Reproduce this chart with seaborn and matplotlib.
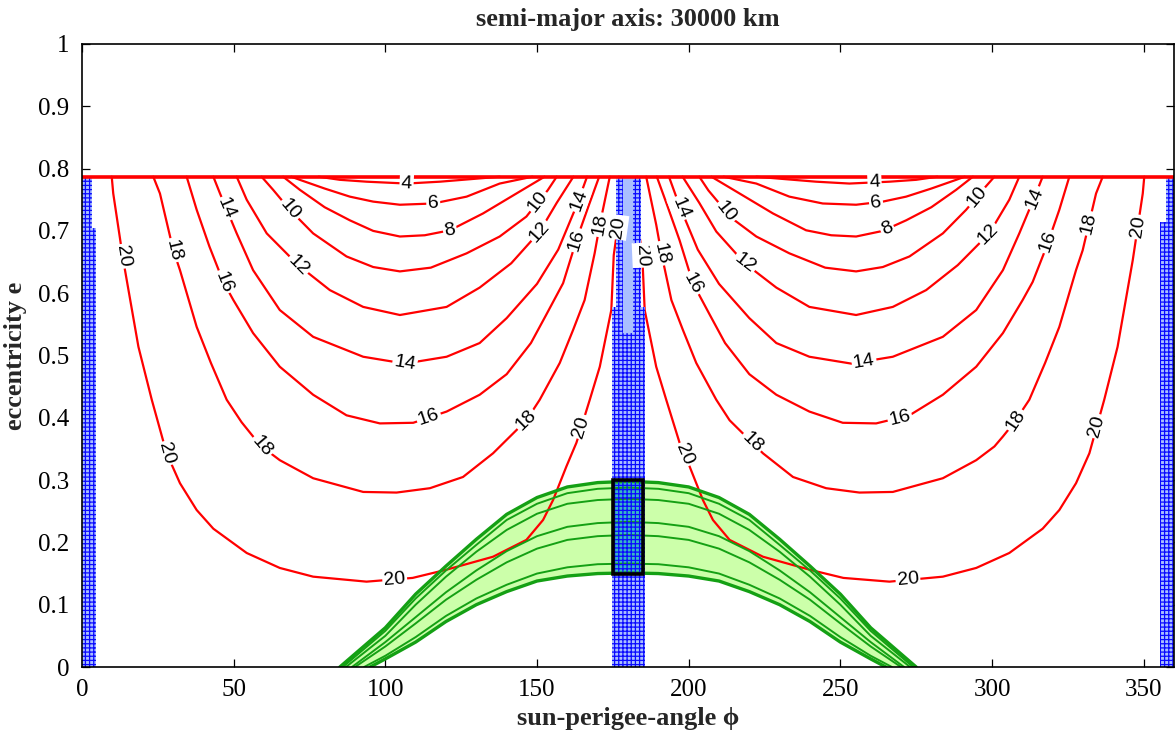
import numpy as np
import matplotlib
matplotlib.use("Agg")
import matplotlib.pyplot as plt
from matplotlib.patches import Polygon, Rectangle
import seaborn as sns

# ---------------------------------------------------------------------------
# Contour lines of the left half (0..180 deg); the right half is the mirror
# image phi -> 360 - phi.
# ---------------------------------------------------------------------------
levels = [4, 6, 8, 10, 12, 14, 16, 18, 20]

phi_04 = [78, 85, 93.8, 107, 118, 128, 137.7]
e_04 = [0.787, 0.782, 0.779, 0.776, 0.779, 0.783, 0.787]

phi_06 = [69, 71.8, 80, 88.3, 96, 104.8, 115.8, 126.8, 137.7, 148.5]
e_06 = [0.787, 0.782, 0.768, 0.755, 0.747, 0.742, 0.744, 0.755, 0.776, 0.787]

phi_08 = [66.3, 71.8, 80, 88.3, 96, 104.8, 113, 121.3, 132.2, 143.2, 152.5]
e_08 = [0.787, 0.766, 0.738, 0.717, 0.700, 0.691, 0.693, 0.701, 0.728, 0.760, 0.787]

phi_10 = [59.2, 63.0, 68.5, 76.2, 87.2, 96, 104.8, 115, 126.8, 137.7, 146.5, 150.4, 153.5, 156.5]
e_10 = [0.787, 0.766, 0.734, 0.696, 0.659, 0.642, 0.635, 0.641, 0.664, 0.691, 0.723, 0.747, 0.765, 0.787]

phi_12 = [51.0, 54.3, 60.9, 71.3, 81.7, 92.7, 104.8, 120.2, 131.1, 141.5, 150.9, 156.5, 162]
e_12 = [0.787, 0.750, 0.696, 0.645, 0.605, 0.578, 0.565, 0.578, 0.609, 0.648, 0.699, 0.745, 0.787]

phi_14 = [43.3, 45.5, 51.0, 56.4, 65.2, 76.2, 92.7, 106.4, 120.2, 131.1, 140, 150, 157, 163, 166.5]
e_14 = [0.787, 0.760, 0.696, 0.637, 0.573, 0.530, 0.498, 0.487, 0.498, 0.520, 0.560, 0.615, 0.670, 0.740, 0.787]

phi_16 = [34.5, 37.8, 42, 46.6, 49.9, 56.4, 65.2, 76.2, 87.2, 98.2, 109.2, 120.2, 131.1,
          140, 148, 153, 158.6, 163, 167, 170.5]
e_16 = [0.787, 0.734, 0.675, 0.618, 0.589, 0.536, 0.482, 0.437, 0.404, 0.391, 0.392, 0.410, 0.437,
        0.470, 0.520, 0.565, 0.616, 0.685, 0.740, 0.787]

phi_18 = [23.5, 25.7, 30.1, 32.3, 37.8, 42.5, 47.7, 52.6, 56.4, 59.2, 65.2, 76.2, 92.7, 103.7,
          114.7, 125.6, 135.5, 146.5, 150.9, 157.5, 161.9, 165.7, 169, 170.7, 174]
e_18 = [0.787, 0.760, 0.669, 0.637, 0.546, 0.488, 0.429, 0.393, 0.370, 0.354, 0.332, 0.303, 0.281, 0.280,
        0.287, 0.305, 0.343, 0.396, 0.429, 0.488, 0.541, 0.589, 0.664, 0.710, 0.787]

phi_20 = [9.8, 10.3, 13.6, 18.6, 23.0, 27.9, 32.3, 37.8, 43.3, 54.3, 65.2, 76.2, 93.8, 109, 120,
          135.5, 146.5, 152, 155.3, 159.7, 163, 167.4, 170.7, 174.5, 175.3, 176.6, 177]
e_20 = [0.787, 0.760, 0.653, 0.514, 0.429, 0.343, 0.295, 0.252, 0.222, 0.183, 0.159, 0.145, 0.137, 0.143, 0.156,
        0.177, 0.204, 0.236, 0.268, 0.322, 0.360, 0.429, 0.482, 0.573, 0.661, 0.706, 0.787]

contour_phi = [phi_04, phi_06, phi_08, phi_10, phi_12, phi_14, phi_16, phi_18, phi_20]
contour_e = [e_04, e_06, e_08, e_10, e_12, e_14, e_16, e_18, e_20]

# perigee altitude limit: e = 1 - R_earth / a
e_max = 0.787

# label anchors (level, phi, e)
label_level = [4, 6, 8, 10, 12, 14, 16, 18, 20, 14, 16, 18, 20, 20, 10, 12, 14, 16, 18, 20, 18, 20,
               4, 6, 8, 10, 12, 14, 16, 18, 20, 14, 16, 18, 20, 20, 20, 18, 14, 16, 10, 12, 20, 18]
label_phi = [107, 115.8, 121.3, 68.5, 71.3, 46.6, 46.6, 30.1, 13.1, 106.4, 114.1, 59.2, 27.9, 103.1,
             150.4, 150.9, 163.5, 163, 170.7, 176.6, 146.5, 165,
             261.3, 261.8, 265.7, 294.2, 297.5, 312.9, 317.3, 331.9, 347, 258, 269.5, 306.9, 334.9, 272.3,
             185, 191, 197, 201.4, 212.4, 218.5, 197, 220]
label_e = [0.776, 0.744, 0.701, 0.734, 0.645, 0.734, 0.618, 0.669, 0.659, 0.487, 0.404, 0.354, 0.343, 0.140,
           0.747, 0.699, 0.750, 0.685, 0.710, 0.706, 0.396, 0.385,
           0.776, 0.744, 0.701, 0.758, 0.701, 0.755, 0.685, 0.712, 0.707, 0.485, 0.402, 0.399, 0.386, 0.140,
           0.661, 0.664, 0.736, 0.616, 0.731, 0.648, 0.338, 0.356]

# ---------------------------------------------------------------------------
# Feasible region (green): left half, mirrored about 180 deg
# ---------------------------------------------------------------------------
g_phi = [100, 110, 120, 130, 140, 150, 160, 170, 180]
g_top_foot = 85
g_top = [0.063, 0.117, 0.162, 0.205, 0.245, 0.272, 0.289, 0.296, 0.298]
g_bot_foot = 95
g_bot = [0.013, 0.040, 0.073, 0.100, 0.121, 0.138, 0.146, 0.150, 0.151]

g_inner_feet = [86, 87, 89, 90, 93]
g_inner_1 = [0.058, 0.110, 0.155, 0.196, 0.236, 0.262, 0.279, 0.286, 0.288]
g_inner_2 = [0.050, 0.100, 0.145, 0.185, 0.220, 0.246, 0.262, 0.268, 0.270]
g_inner_3 = [0.040, 0.080, 0.120, 0.155, 0.186, 0.210, 0.225, 0.231, 0.233]
g_inner_4 = [0.033, 0.070, 0.108, 0.140, 0.168, 0.190, 0.204, 0.210, 0.212]
g_inner_5 = [0.018, 0.048, 0.082, 0.110, 0.132, 0.150, 0.160, 0.165, 0.166]
g_inner = [g_inner_1, g_inner_2, g_inner_3, g_inner_4, g_inner_5]

# ---------------------------------------------------------------------------
# Excluded sun-perigee bands (blue) and the selected design box
# ---------------------------------------------------------------------------
band_left_phi = [0, 4.7, 4.7, 3.2, 3.2, 0]
band_left_e = [0, 0, 0.705, 0.705, 0.787, 0.787]
band_mid_phi = [174.8, 185.5, 185.5, 184.3, 184.3, 176.2, 176.2, 174.8]
band_mid_e = [0, 0, 0.578, 0.578, 0.787, 0.787, 0.578, 0.578]
band_mid_core_phi = [178.4, 181.6, 181.6, 178.4]
band_mid_core_e = [0.536, 0.536, 0.787, 0.787]
band_right_phi = [355.4, 360, 360, 357.2, 357.2, 355.4]
band_right_e = [0, 0, 0.787, 0.787, 0.715, 0.715]

box_phi = [175, 185]
box_e = [0.15, 0.30]

# ---------------------------------------------------------------------------
sns.set_theme(style="ticks")
plt.rcParams["font.family"] = ["Liberation Serif", "DejaVu Serif"]
plt.rcParams["hatch.linewidth"] = 0.9

W, H = 1176, 736
fig = plt.figure(figsize=(W / 100, H / 100), dpi=100)
ax = fig.add_axes([82 / W, 1 - 667 / H, (1174 - 82) / W, (667 - 44) / H])
ax.set_xlim(0, 360)
ax.set_ylim(0, 1)

RED = "#ff0000"
GREEN_LINE = "#14a014"
GREEN_FILL = "#ccffaa"
BLUE_FILL = "#aabfff"
BLUE = "#0a0aff"


def mirror(xs):
    return [360 - x for x in xs]


# contour lines
for xs, ys in zip(contour_phi, contour_e):
    for xx in (xs, mirror(xs)):
        sns.lineplot(x=xx, y=ys, sort=False, estimator=None, color=RED,
                     linewidth=1.6, ax=ax, zorder=1.6)

# perigee limit line
sns.lineplot(x=[0, 360], y=[e_max, e_max], sort=False, estimator=None,
             color=RED, linewidth=2.6, ax=ax, zorder=2.4)


# green region
def full_arc(foot, vals):
    xs = [foot] + list(g_phi) + mirror(g_phi[:-1])[::-1] + [360 - foot]
    ys = [0.0] + list(vals) + list(vals[:-1])[::-1] + [0.0]
    return xs, ys


top_x, top_y = full_arc(g_top_foot, g_top)
bot_x, bot_y = full_arc(g_bot_foot, g_bot)
ax.fill(top_x + bot_x[::-1], top_y + bot_y[::-1], color=GREEN_FILL, lw=0, zorder=1.2)

green_curves = [(top_x, top_y, 2.4), (bot_x, bot_y, 2.4)]
for foot, vals in zip(g_inner_feet, g_inner):
    gx, gy = full_arc(foot, vals)
    green_curves.append((gx, gy, 1.4))
for gx, gy, lw in green_curves:
    sns.lineplot(x=gx, y=gy, sort=False, estimator=None, color=GREEN_LINE,
                 linewidth=lw, ax=ax, zorder=1.8)

# blue bands
for bx, by in ((band_left_phi, band_left_e), (band_mid_phi, band_mid_e),
               (band_right_phi, band_right_e)):
    ax.add_patch(Polygon(np.column_stack([bx, by]), closed=True,
                         facecolor=BLUE_FILL, edgecolor="none", lw=0, zorder=2.0))

# overlap of band and feasible region inside the box
ax.add_patch(Rectangle((box_phi[0], box_e[0]), box_phi[1] - box_phi[0], box_e[1] - box_e[0],
                       facecolor="#38b8c4", edgecolor="none", zorder=2.05))
clip_rect = Rectangle((box_phi[0], box_e[0]), box_phi[1] - box_phi[0], box_e[1] - box_e[0],
                      transform=ax.transData)
for gx, gy, lw in green_curves:
    ln, = ax.plot(gx, gy, color=GREEN_LINE, lw=lw, zorder=2.1)
    ln.set_clip_path(clip_rect)

for bx, by in ((band_left_phi, band_left_e), (band_mid_phi, band_mid_e),
               (band_right_phi, band_right_e)):
    ax.add_patch(Polygon(np.column_stack([bx, by]), closed=True,
                         facecolor="none", edgecolor=BLUE, lw=0, hatch="++++", zorder=2.15))
ax.add_patch(Polygon(np.column_stack([band_mid_core_phi, band_mid_core_e]), closed=True,
                     facecolor=BLUE_FILL, edgecolor="none", lw=0, zorder=2.18))

# design box
ax.add_patch(Rectangle((box_phi[0], box_e[0]), box_phi[1] - box_phi[0], box_e[1] - box_e[0],
                       facecolor="none", edgecolor="black", lw=2.6, zorder=2.3))


# contour labels placed on their curves, aligned with the local direction
def place_on_curve(level, px, py):
    k = levels.index(level)
    best = None
    for xs in (contour_phi[k], mirror(contour_phi[k])):
        P = ax.transData.transform(np.column_stack([xs, contour_e[k]]))
        q = ax.transData.transform((px, py))
        for i in range(len(P) - 1):
            a, b = P[i], P[i + 1]
            d = b - a
            t = np.clip(np.dot(q - a, d) / np.dot(d, d), 0, 1)
            proj = a + t * d
            dist = np.hypot(*(q - proj))
            if best is None or dist < best[0]:
                best = (dist, proj, d)
    _, proj, d = best
    ang = np.degrees(np.arctan2(d[1], d[0]))
    if ang > 90:
        ang -= 180
    if ang < -90:
        ang += 180
    x, y = ax.transData.inverted().transform(proj)
    return x, y, ang


for lev, px, py in zip(label_level, label_phi, label_e):
    x, y, ang = place_on_curve(lev, px, py)
    ax.text(x, y, str(lev), rotation=ang, rotation_mode="anchor", ha="center", va="center",
            fontsize=14, family=["Liberation Sans", "DejaVu Sans"], color="black", zorder=3,
            bbox=dict(boxstyle="square,pad=0.08", fc="white", ec="none"))

# axes cosmetics
xt = [0, 50, 100, 150, 200, 250, 300, 350]
yt = [0, 0.1, 0.2, 0.3, 0.4, 0.5, 0.6, 0.7, 0.8, 0.9, 1.0]
ax.set_xticks(xt)
ax.set_xticklabels([str(v) for v in xt])
ax.set_yticks(yt)
ax.set_yticklabels(["0", "0.1", "0.2", "0.3", "0.4", "0.5", "0.6", "0.7", "0.8", "0.9", "1"])
ax.tick_params(direction="in", top=True, right=True, length=6, width=0.9,
               labelsize=18, colors="black", pad=9)
for s in ax.spines.values():
    s.set_visible(True)
    s.set_color("black")
    s.set_linewidth(1.2)
    s.set_zorder(2.5)

ax.set_title("semi-major axis: 30000 km", fontsize=19, fontweight="bold", pad=13)
ax.set_xlabel("sun-perigee-angle ϕ", fontsize=19, fontweight="bold", labelpad=4)
ax.set_ylabel("eccentricity e", fontsize=19, fontweight="bold", labelpad=8)

fig.savefig("out.png", dpi=100, facecolor="white")
